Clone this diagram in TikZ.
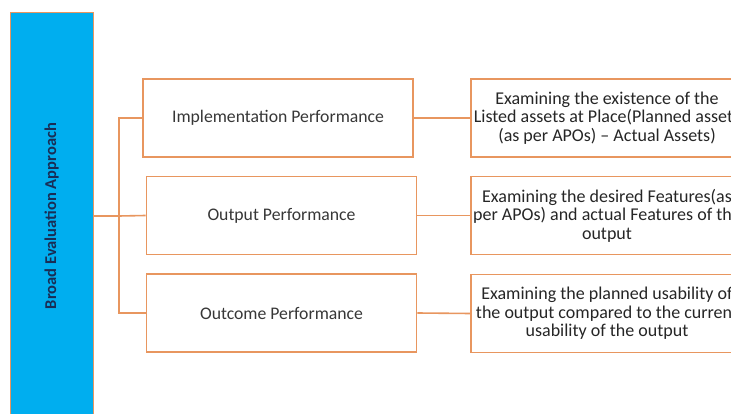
\documentclass[tikz,border=0pt]{standalone}
\usepackage{fontspec}
\setmainfont{Carlito}
\usetikzlibrary{positioning}

\definecolor{barblue}{RGB}{0,174,239}
\definecolor{lineorange}{RGB}{232,150,95}
\definecolor{textgray}{RGB}{55,55,55}
\definecolor{bartext}{RGB}{25,45,85}

\tikzset{
  perfbox/.style={draw=lineorange, line width=1.6pt, fill=white,
    minimum width=270, minimum height=78, inner sep=0pt,
    text=textgray, font=\fontsize{17.7}{20}\selectfont},
  descbox/.style={draw=lineorange, line width=1.6pt, fill=white,
    minimum width=272, minimum height=78, inner sep=0pt, align=center,
    text=black!85, font=\fontsize{18}{18.5}\selectfont},
  conn/.style={draw=lineorange, line width=1.6pt},
}

\begin{document}
\begin{tikzpicture}[x=1pt, y=-1pt]
  \useasboundingbox (0,0) rectangle (731,414);
  \fill[white] (0,0) rectangle (731,414);

  % left bar
  \node[draw=lineorange, line width=0.8pt, fill=barblue, minimum width=83,
    minimum height=408, inner sep=0pt] (bar) at (51.5,216) {};
  \node[rotate=90, text=bartext, font=\fontsize{16.5}{18}\selectfont\bfseries]
    (bartitle) at (bar.center) {Broad Evaluation Approach};

  % middle column
  \node[perfbox] (impl) at (278,118) {Implementation Performance};
  \node[perfbox] (outp) at (281.5,215.5) {Output Performance};
  \node[perfbox] (outc) at (281.5,313) {Outcome Performance};

  % right column
  \node[descbox] (impldesc) at (607,118)
    {Examining the existence of the\\Listed assets at Place(Planned assets\\(as per APOs) -- Actual Assets)};
  \node[descbox] (outpdesc) at (607,215.5)
    {Examining the desired\ Features(as\\per APOs) and actual Features of the\\output};
  \node[descbox] (outcdesc) at (607,313.5)
    {Examining the planned usability of\\the output compared to the current\\usability of the output};

  % connectors
  \coordinate (fork) at (119,216);
  \draw[conn] (bar.east) -- (fork);
  \draw[conn] (impl.west) -| (fork) |- (outc.west);
  \draw[conn] (fork) -- (outp.west);
  \draw[conn] (impl.east) -- (impldesc.west);
  \draw[conn] (outp.east) -- (outpdesc.west);
  \draw[conn] (outc.east) -- (outcdesc.west);
\end{tikzpicture}
\end{document}
